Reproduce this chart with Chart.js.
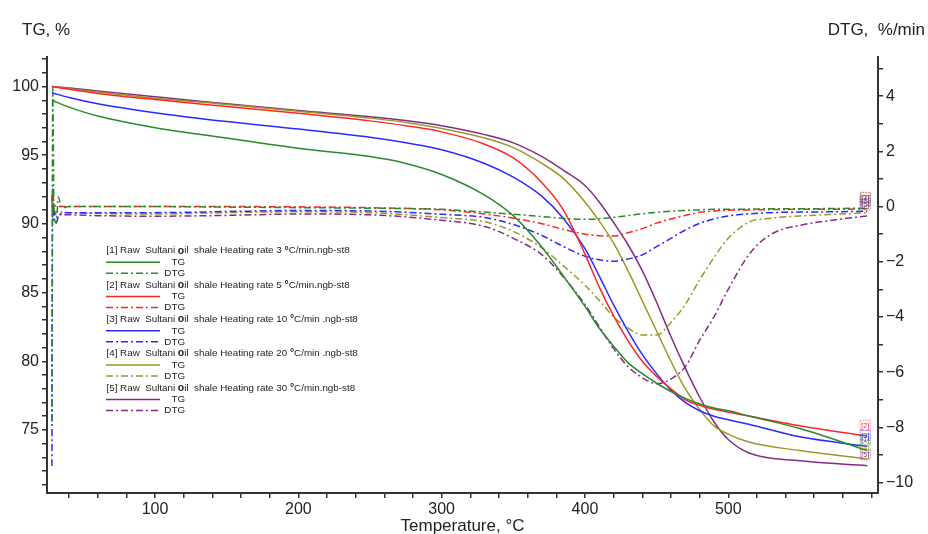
<!DOCTYPE html>
<html>
<head>
<meta charset="utf-8">
<script src="https://cdn.jsdelivr.net/npm/chart.js@4.4.1/dist/chart.umd.min.js"></script>
<style>
  html, body { margin: 0; padding: 0; background: #fff; }
  #wrap { position: relative; width: 928px; height: 534px; }
</style>
</head>
<body>
<div id="wrap"><canvas id="tga" width="928" height="534"></canvas></div>
<script>
// TG / DTG of raw Sultani oil shale at five heating rates

const rates = [3, 5, 10, 20, 30];
const suffixes = [".ngb-st8", ".ngb-st8", " .ngb-st8", " .ngb-st8", ".ngb-st8"];
const colors = ["#2a8a2a", "#ff2626", "#2a2aff", "#999926", "#862a86"];

// tick labels
const xTickLabels = [100, 200, 300, 400, 500];
const tgTickLabels = [75, 80, 85, 90, 95, 100];
const dtgTickLabels = [-10, -8, -6, -4, -2, 0, 2, 4];

// TG, % (left axis)
const tgTemps = [28, 40, 60, 100, 150, 200, 250, 275, 300, 330, 350, 370, 385, 400, 410, 420, 430, 440, 450, 460, 470, 480, 490, 500, 515, 550, 597];
const tg3  = [99.0, 98.5, 97.85, 97.0, 96.25, 95.5, 94.9, 94.4, 93.6, 92.1, 90.6, 88.3, 86.2, 84.0, 82.4, 81.1, 79.9, 79.1, 78.4, 77.8, 77.3, 76.9, 76.6, 76.4, 76.0, 75.1, 73.5];
const tg5  = [100.0, 99.8, 99.5, 99.05, 98.55, 98.05, 97.5, 97.15, 96.7, 95.8, 94.8, 93.0, 91.0, 87.8, 85.4, 83.3, 81.5, 80.0, 78.9, 78.0, 77.2, 76.8, 76.5, 76.3, 76.0, 75.3, 74.55];
const tg10 = [99.55, 99.2, 98.75, 98.1, 97.45, 96.9, 96.3, 95.9, 95.4, 94.4, 93.4, 92.0, 90.4, 88.2, 86.2, 84.1, 82.2, 80.5, 79.1, 77.9, 77.0, 76.4, 76.0, 75.75, 75.4, 74.5, 73.8];
const tg20 = [100.0, 99.85, 99.6, 99.15, 98.7, 98.2, 97.7, 97.38, 96.95, 96.25, 95.55, 94.4, 93.3, 91.6, 90.2, 88.6, 86.6, 84.4, 82.2, 80.0, 78.0, 76.5, 75.3, 74.7, 74.1, 73.5, 72.9];
const tg30 = [100.0, 99.9, 99.68, 99.25, 98.75, 98.25, 97.8, 97.52, 97.15, 96.5, 95.9, 94.9, 93.9, 92.8, 91.6, 90.1, 88.5, 86.6, 84.3, 81.8, 79.5, 77.4, 75.6, 74.3, 73.3, 72.75, 72.4];

// DTG, %/min (right axis)
const dtgTemps = [28, 28.6, 29.5, 31, 32.5, 35, 40, 60, 100, 150, 200, 250, 300, 330, 350, 370, 385, 400, 410, 420, 430, 440, 450, 460, 470, 480, 490, 500, 515, 530, 550, 575, 597];
const dtg3  = [-7.8, 4.3, -0.3, -0.6, 0.35, -0.05, 0.0, 0.0, 0.0, -0.02, -0.04, -0.06, -0.1, -0.2, -0.28, -0.36, -0.43, -0.46, -0.44, -0.39, -0.33, -0.26, -0.21, -0.17, -0.14, -0.12, -0.1, -0.1, -0.09, -0.08, -0.08, -0.07, -0.06];
const dtg5  = [0.2, 0.45, -0.1, 0.05, 0.0, 0.0, 0.0, 0.0, 0.0, 0.0, -0.01, -0.04, -0.12, -0.27, -0.42, -0.62, -0.83, -1.0, -1.06, -1.07, -0.95, -0.8, -0.6, -0.45, -0.32, -0.21, -0.16, -0.13, -0.12, -0.11, -0.1, -0.1, -0.08];
const dtg10 = [-9.4, 0.7, -0.4, -0.6, -0.35, -0.25, -0.22, -0.22, -0.22, -0.18, -0.14, -0.16, -0.28, -0.4, -0.65, -1.05, -1.45, -1.8, -1.93, -1.98, -1.9, -1.75, -1.45, -1.15, -0.85, -0.61, -0.45, -0.34, -0.26, -0.22, -0.2, -0.19, -0.17];
const dtg20 = [0.2, -0.3, -0.15, -0.2, -0.2, -0.2, -0.22, -0.25, -0.27, -0.22, -0.19, -0.22, -0.4, -0.55, -0.9, -1.5, -2.15, -2.85, -3.4, -4.0, -4.4, -4.65, -4.65, -4.2, -3.55, -2.66, -1.85, -1.15, -0.55, -0.42, -0.34, -0.28, -0.22];
const dtg30 = [0.4, -0.5, -0.2, -0.3, -0.3, -0.3, -0.3, -0.33, -0.35, -0.32, -0.27, -0.3, -0.5, -0.72, -1.15, -1.75, -2.55, -3.55, -4.35, -5.15, -5.8, -6.2, -6.42, -6.25, -5.8, -4.85, -4.0, -3.0, -1.7, -1.0, -0.68, -0.48, -0.34];

const tgSeries = [tg3, tg5, tg10, tg20, tg30];
const dtgSeries = [dtg3, dtg5, dtg10, dtg20, dtg30];

const FONT = "'Liberation Sans', Arial, sans-serif";
const INK = "#222";
const DASH_DOT = [7, 3, 2, 3];

Chart.defaults.font.family = FONT;
Chart.defaults.color = INK;

const datasets = [];
rates.forEach((r, i) => {
  datasets.push({
    label: "TG " + r,
    yAxisID: "y",
    data: tgTemps.map((t, j) => ({ x: t, y: tgSeries[i][j] })),
    borderColor: colors[i],
    borderWidth: 1.5,
    tag: i + 1
  });
  datasets.push({
    label: "DTG " + r,
    yAxisID: "y1",
    data: dtgTemps.map((t, j) => ({ x: t, y: dtgSeries[i][j] })),
    borderColor: colors[i],
    borderWidth: 1.5,
    borderDash: DASH_DOT,
    tag: i + 1
  });
});

function minorTicks(from, to, step) {
  const out = [];
  for (let v = from; v <= to + 1e-9; v += step) out.push({ value: Math.round(v * 1000) / 1000 });
  return out;
}

function minus(v) {
  return v < 0 ? "\u2212" + (-v) : String(v);
}

const axisLine = { display: true, color: "#333", width: 2 };
const tickMarks = { drawOnChartArea: false, drawTicks: true, tickLength: 5, color: "#333", lineWidth: 1.5 };
const tickFont = { family: FONT, size: 16 };

// captions, in-plot legend and end tags
const overlay = {
  id: "overlay",
  afterDatasetsDraw(chart) {
    const ctx = chart.ctx;
    ctx.save();
    ctx.fillStyle = INK;
    ctx.textBaseline = "middle";
    ctx.font = "17px " + FONT;
    ctx.textAlign = "left";
    ctx.fillText("TG, %", 22, 30);
    ctx.textAlign = "right";
    ctx.fillText("DTG,  %/min", 925, 30);

    // little [n] tags at the end of every curve
    chart.data.datasets.forEach((ds, k) => {
      const pts = chart.getDatasetMeta(k).data;
      const p = pts[pts.length - 1];
      const cx = p.x - 2, cy = p.y - 11;
      ctx.setLineDash([1.5, 1]);
      ctx.lineWidth = 0.8;
      ctx.strokeStyle = ds.borderColor;
      ctx.globalAlpha = 0.7;
      ctx.strokeRect(cx - 5, cy - 5, 10, 10);
      ctx.globalAlpha = 1;
      ctx.setLineDash([]);
      ctx.fillStyle = ds.borderColor;
      ctx.font = "7px " + FONT;
      ctx.textAlign = "center";
      ctx.fillText("[" + ds.tag + "]", cx, cy + 0.5);
    });

    // legend block
    ctx.textAlign = "left";
    rates.forEach((r, i) => {
      const y0 = 250.7 + 34.3 * i;
      const parts = [
        ["[" + (i + 1) + "] Raw  Sultani ", false],
        ["o", true],
        ["il  shale Heating rate " + r + " ", false],
        ["\u00b0", true],
        ["C/min" + suffixes[i], false]
      ];
      let x = 106.5;
      ctx.fillStyle = INK;
      parts.forEach(([text, bold]) => {
        ctx.font = (bold ? "bold 10.5px " : "9.8px ") + FONT;
        ctx.fillText(text, x, y0);
        x += ctx.measureText(text).width;
      });

      ctx.strokeStyle = colors[i];
      ctx.lineWidth = 1.5;
      ctx.setLineDash([]);
      ctx.beginPath();
      ctx.moveTo(106, y0 + 11.5);
      ctx.lineTo(160, y0 + 11.5);
      ctx.stroke();
      ctx.setLineDash(DASH_DOT);
      ctx.beginPath();
      ctx.moveTo(106, y0 + 22.5);
      ctx.lineTo(160, y0 + 22.5);
      ctx.stroke();
      ctx.setLineDash([]);

      ctx.fillStyle = INK;
      ctx.font = "9.8px " + FONT;
      ctx.textAlign = "right";
      ctx.fillText("TG", 185, y0 + 11.5);
      ctx.fillText("DTG", 185, y0 + 22.5);
      ctx.textAlign = "left";
    });
    ctx.restore();
  }
};

new Chart(document.getElementById("tga"), {
  type: "line",
  data: { datasets },
  options: {
    responsive: false,
    animation: false,
    layout: { padding: { top: 57, left: 0, right: 0, bottom: 0 } },
    elements: {
      point: { radius: 0 },
      line: { cubicInterpolationMode: "monotone" }
    },
    plugins: { legend: { display: false }, tooltip: { enabled: false } },
    scales: {
      x: {
        type: "linear",
        min: 24.6,
        max: 604.5,
        afterFit: s => { s.height = 41; },
        afterBuildTicks: s => { s.ticks = minorTicks(40, 600, 20); },
        ticks: {
          autoSkip: false, maxRotation: 0, padding: 2, font: tickFont, color: INK,
          callback: v => xTickLabels.includes(v) ? String(v) : ""
        },
        grid: tickMarks,
        border: axisLine,
        title: {
          display: true, text: "Temperature, \u00b0C", font: { family: FONT, size: 17 }, color: INK,
          padding: { top: 0, bottom: -3 }
        }
      },
      y: {
        position: "left",
        min: 70.41,
        max: 102.15,
        afterFit: s => { s.width = 47; },
        afterBuildTicks: s => { s.ticks = minorTicks(71, 102, 1); },
        ticks: {
          autoSkip: false, padding: 3, font: tickFont, color: INK,
          callback: v => tgTickLabels.includes(v) ? String(v) : ""
        },
        grid: tickMarks,
        border: axisLine
      },
      y1: {
        position: "right",
        min: -10.38,
        max: 5.42,
        afterFit: s => { s.width = 50; },
        afterBuildTicks: s => { s.ticks = minorTicks(-10, 5, 1); },
        ticks: {
          autoSkip: false, padding: 3, font: tickFont, color: INK,
          callback: v => dtgTickLabels.includes(v) ? minus(v) : ""
        },
        grid: tickMarks,
        border: axisLine
      }
    }
  },
  plugins: [overlay]
});
</script>
</body>
</html>
